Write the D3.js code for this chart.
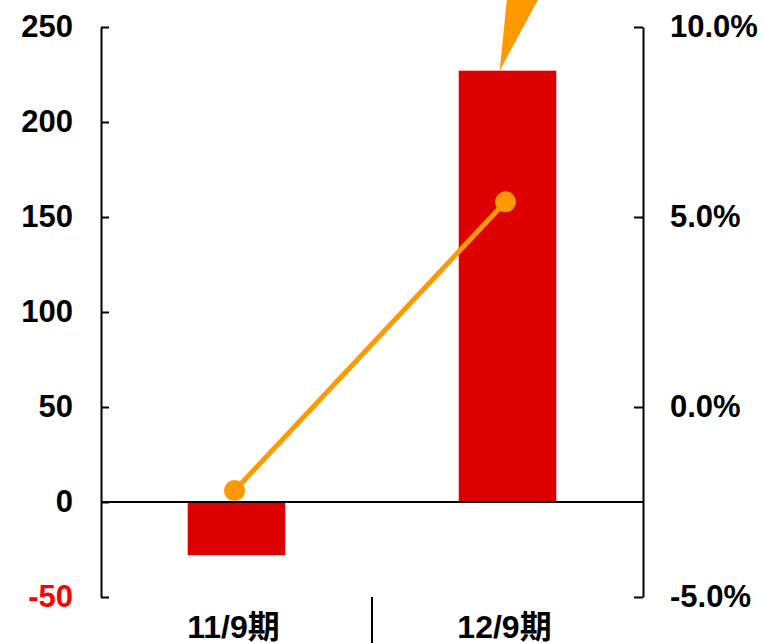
<!DOCTYPE html>
<html>
<head>
<meta charset="utf-8">
<script src="https://cdn.jsdelivr.net/npm/d3@7"></script>
<style>
html,body{margin:0;padding:0;background:#fff;overflow:hidden;}
text{font-family:"Liberation Sans",Arial,"Noto Sans CJK JP",sans-serif;font-weight:bold;}
</style>
</head>
<body>
<svg id="chart" width="763" height="643"></svg>
<script>
const categories = ["11/9期", "12/9期"];
const barValues = [-28, 227];
const lineValues = [-0.022, 0.054];
const leftTicks = [-50, 0, 50, 100, 150, 200, 250];
const rightTicks = [-0.05, 0, 0.05, 0.10];

(function () {
const W = 763, H = 643;
const pL = 101, pR = 643, pT = 27, pB = 597;
const svg = d3.select("#chart");

const x = d3.scaleBand().domain(categories).range([pL, pR]).paddingInner(0.64).paddingOuter(0.32);
const y = d3.scaleLinear().domain([-50, 250]).range([pB, pT]);
const y2 = d3.scaleLinear().domain([-0.05, 0.10]).range([pB, pT]);

// bars
svg.append("g").selectAll("rect").data(categories).join("rect")
  .attr("x", d => x(d))
  .attr("width", x.bandwidth())
  .attr("y", (d, i) => y(Math.max(0, barValues[i])))
  .attr("height", (d, i) => Math.abs(y(barValues[i]) - y(0)))
  .attr("fill", "#DD0000");

// callout wedge from top of second bar
const bx = x(categories[1]) + x.bandwidth() * 0.42;
const by = y(barValues[1]);
svg.append("path")
  .attr("d", d3.line()([[bx, by], [bx + 10, by - 100], [bx + 54, by - 100]]))
  .attr("fill", "#FF9900");

// zero line
svg.append("line").attr("x1", pL).attr("x2", pR).attr("y1", y(0)).attr("y2", y(0))
  .attr("stroke", "#000").attr("stroke-width", 2);

const fmtL = d => String(d);
const fmtR = d => (d * 100).toFixed(1) + "%";

// left axis
const ga = svg.append("g").attr("transform", `translate(${pL},0)`)
  .call(d3.axisLeft(y).tickValues(leftTicks).tickSize(-8).tickSizeOuter(0).tickPadding(28).tickFormat(fmtL));
ga.select(".domain").attr("stroke", "#000").attr("stroke-width", 2);
ga.selectAll(".tick line").attr("stroke", "#000").attr("stroke-width", 2);
ga.selectAll(".tick text").attr("font-size", 31).attr("font-family", null)
  .attr("fill", d => d < 0 ? "#FF0000" : "#000");

// right axis
const gb = svg.append("g").attr("transform", `translate(${pR},0)`)
  .call(d3.axisRight(y2).tickValues(rightTicks).tickSize(-9).tickSizeOuter(0).tickPadding(27).tickFormat(fmtR));
gb.select(".domain").attr("stroke", "#000").attr("stroke-width", 2);
gb.selectAll(".tick line").attr("stroke", "#000").attr("stroke-width", 2);
gb.selectAll(".tick text").attr("font-size", 31).attr("font-family", null).attr("fill", "#000");

// category separator
svg.append("line").attr("x1", pL + x.step()).attr("x2", pL + x.step())
  .attr("y1", pB).attr("y2", H).attr("stroke", "#000").attr("stroke-width", 2);

// category labels
svg.append("g").selectAll("text").data(categories).join("text")
  .attr("x", d => x(d) + x.bandwidth() / 2 - 3)
  .attr("y", 638)
  .attr("text-anchor", "middle")
  .attr("font-size", 32)
  .attr("fill", "#000")
  .text(d => d);

// line series
const cx = d => x(d) + x.bandwidth() / 2 - 2;
svg.append("path")
  .attr("d", d3.line()(categories.map((c, i) => [cx(c), y2(lineValues[i])])))
  .attr("fill", "none").attr("stroke", "#FF9900").attr("stroke-width", 5);
svg.append("g").selectAll("circle").data(categories).join("circle")
  .attr("cx", d => cx(d))
  .attr("cy", (d, i) => y2(lineValues[i]))
  .attr("r", 10.5)
  .attr("fill", "#FF9900");
})();
</script>
</body>
</html>
